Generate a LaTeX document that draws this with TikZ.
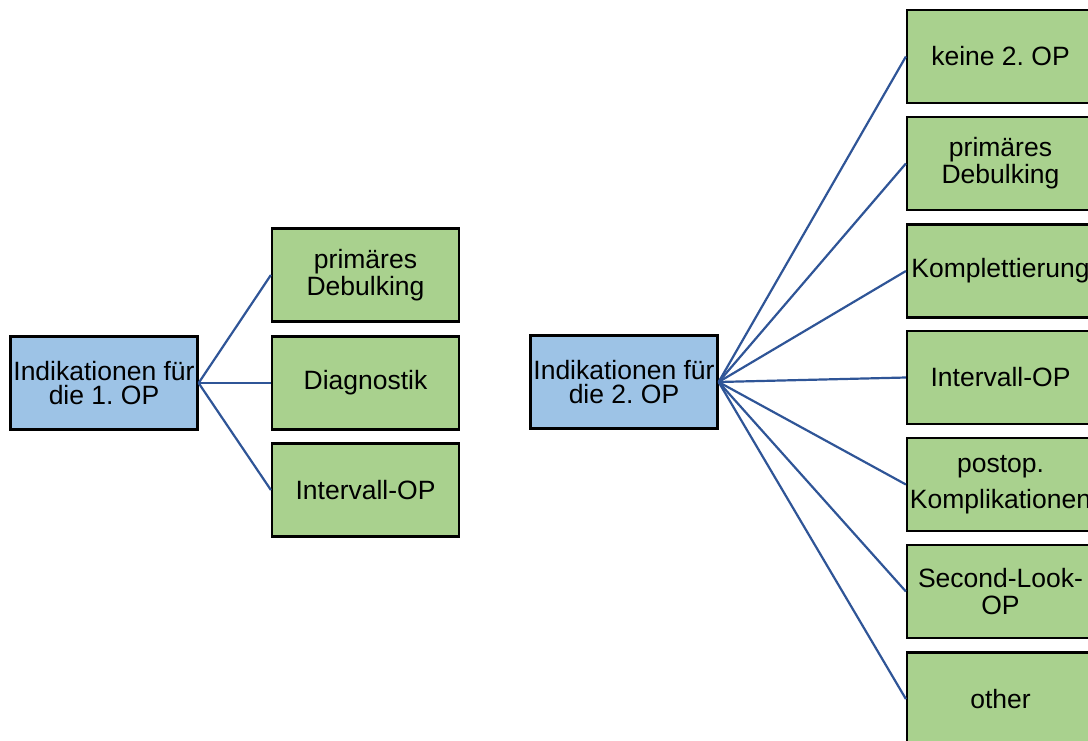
\documentclass[tikz,border=0pt]{standalone}
\usepackage{fontspec}
\setmainfont{Liberation Sans}
\frenchspacing
\definecolor{rootfill}{HTML}{9DC3E6}
\definecolor{leaffill}{HTML}{A9D18E}
\definecolor{conncol}{HTML}{2F5597}
\begin{document}
\begin{tikzpicture}[x=1pt,y=-1pt,
  box/.style={draw=black,line width=2.2pt,minimum width=187pt,minimum height=93pt,inner sep=0pt,align=center,font={\fontsize{26.5}{27}\selectfont}},
  rootbox/.style={box,fill=rootfill,font={\fontsize{26.5}{24.5}\selectfont}},
  leafbox/.style={box,fill=leaffill},
  conn/.style={draw=conncol,line width=2.2pt}]
\useasboundingbox (0,0) rectangle (1088,740);
% left tree
\node[rootbox] (r1) at (104,383) {Indikationen für\\die 1. OP};
\node[leafbox] (a1) at (365.5,275) {primäres\\Debulking};
\node[leafbox] (a2) at (365.5,383) {Diagnostik};
\node[leafbox] (a3) at (365.5,490) {Intervall-OP};
% right tree
\node[rootbox] (r2) at (624,382) {Indikationen für\\die 2. OP};
\node[leafbox] (b1) at (1000.5,56.5) {keine 2. OP};
\node[leafbox] (b2) at (1000.5,163.5) {primäres\\Debulking};
\node[leafbox] (b3) at (1000.5,271) {Komplettierung};
\node[leafbox] (b4) at (1000.5,377.5) {Intervall-OP};
\node[leafbox] (b5) at (1000.5,484.5) {postop.\\[9pt]Komplikationen};
\node[leafbox] (b6) at (1000.5,591.5) {Second-Look-\\OP};
\node[leafbox] (b7) at (1000.5,699) {other};
% connectors
\foreach \c in {a1,a2,a3} \draw[conn] (r1.east) -- (\c.west);
\foreach \c in {b1,b2,b3,b4,b5,b6,b7} \draw[conn] (r2.east) -- (\c.west);
\end{tikzpicture}
\end{document}
